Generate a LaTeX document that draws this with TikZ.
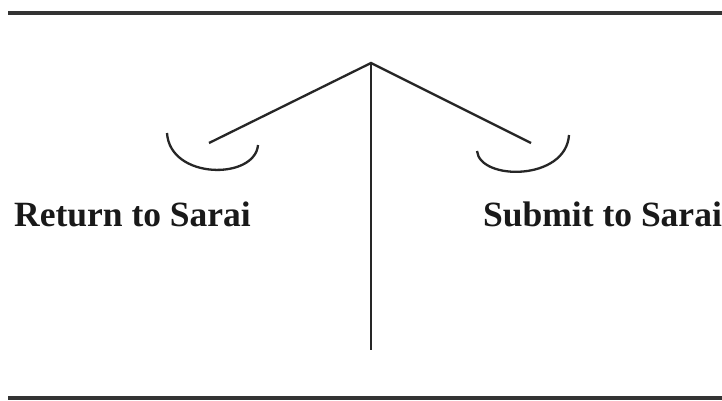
\documentclass[tikz,border=0pt]{standalone}
\usepackage{fontspec}
\setmainfont{Liberation Serif}
\begin{document}
\begin{tikzpicture}[x=1pt,y=-1pt,
  rule/.style={line width=3.5pt,color=black!80},
  beam/.style={line width=2.3pt,color=black!85},
  pan/.style={line width=2.3pt,color=black!85},
  lbl/.style={font=\fontsize{35.5}{38}\selectfont\bfseries,inner sep=0pt,anchor=base west,text=black!90}]
\clip (0,0) rectangle (722,400);
\fill[white] (0,0) rectangle (722,400);
% horizontal rules
\coordinate (tl) at (8,13);
\coordinate (tr) at (722,13);
\coordinate (bl) at (8,398);
\coordinate (br) at (722,398);
\draw[rule] (tl) -- (tr);
\draw[rule] (bl) -- (br);
% balance
\coordinate (apex) at (371,63);
\coordinate (foot) at (371,350);
\coordinate (la) at (209,143);
\coordinate (ra) at (531,143);
\draw[beam] (apex) -- (foot);
\draw[beam] (la) -- (apex) -- (ra);
% pans
\draw[pan] (167,133) .. controls (170,180) and (255,180) .. (258,145);
\draw[pan] (477,151) .. controls (480,181) and (566,181) .. (569,135);
% labels
\node[lbl] (ret) at (14,226) {Return to Sarai};
\node[lbl] (sub) at (483,226) {Submit to Sarai};
\end{tikzpicture}
\end{document}
